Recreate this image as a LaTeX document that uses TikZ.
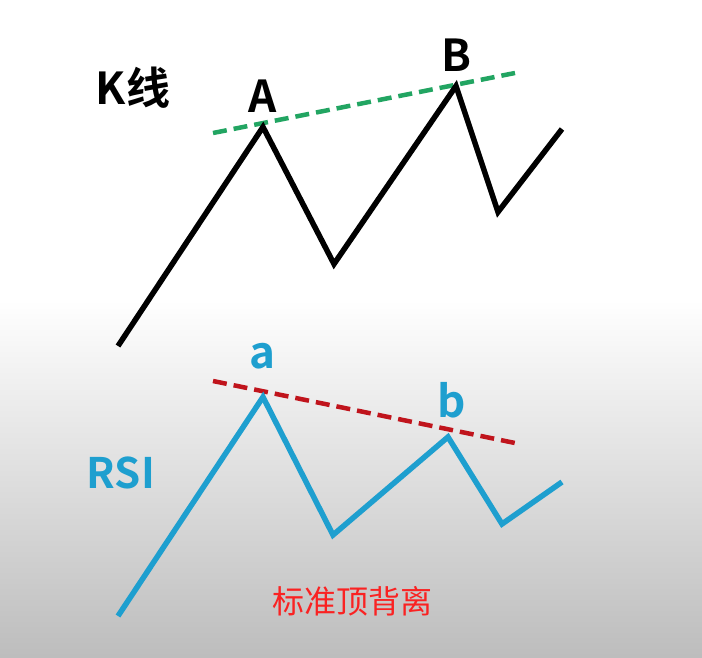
\documentclass[tikz,border=0pt]{standalone}
\usepackage{fontspec}
\newfontfamily\cjk{Noto Sans CJK SC}
\newfontfamily\cjkb{Noto Sans CJK SC Bold}
\definecolor{kgreen}{HTML}{22A562}
\definecolor{rsiblue}{HTML}{1E9FCF}
\definecolor{dred}{HTML}{C0141C}
\definecolor{tred}{HTML}{FA2222}
\begin{document}
\begin{tikzpicture}[x=1pt,y=-1pt,
  kline/.style={line width=5.5pt,black,line join=miter},
  rline/.style={line width=5.5pt,rsiblue,line join=miter},
  gdash/.style={line width=4.5pt,kgreen,dash pattern=on 14pt off 7pt},
  rdash/.style={line width=4.5pt,dred,dash pattern=on 14pt off 7pt},
  lbl/.style={inner sep=0pt,font=\cjkb\fontsize{44}{44}\selectfont}]
\useasboundingbox (0,0) rectangle (702,658);
\fill[white] (0,0) rectangle (702,300);
\shade[top color=white,bottom color=black!26] (0,300) rectangle (702,658);
% K line
\coordinate (k0) at (118,346);
\coordinate (kA) at (263,127);
\coordinate (k2) at (334,264);
\coordinate (kB) at (456,86);
\coordinate (k4) at (498,212);
\coordinate (k5) at (562,129);
\coordinate (g0) at (213,133);
\coordinate (g1) at (515,73);
\draw[gdash] (g0) -- (g1);
\draw[kline] (k0) -- (kA) -- (k2) -- (kB) -- (k4) -- (k5);
\node[lbl] (tK) at (133,88) {K线};
\node[lbl] (tA) at (263,96) {A};
\node[lbl] (tB) at (456,55) {B};
% RSI
\coordinate (r0) at (118,616);
\coordinate (ra) at (263,397);
\coordinate (r2) at (333,535);
\coordinate (rb) at (448,437);
\coordinate (r4) at (502,524);
\coordinate (r5) at (562,482);
\coordinate (d0) at (213,381);
\coordinate (d1) at (515,443);
\draw[rdash] (d0) -- (d1);
\draw[rline] (r0) -- (ra) -- (r2) -- (rb) -- (r4) -- (r5);
\node[lbl,text=rsiblue] (ta) at (262,356) {a};
\node[lbl,text=rsiblue] (tb) at (452,400) {b};
\node[lbl,text=rsiblue,font=\cjkb\fontsize{42}{42}\selectfont] (tR) at (121,473) {RSI};
\node[inner sep=0pt,text=tred,font=\cjk\fontsize{32}{32}\selectfont] (tT) at (352,601) {标准顶背离};
\end{tikzpicture}
\end{document}
